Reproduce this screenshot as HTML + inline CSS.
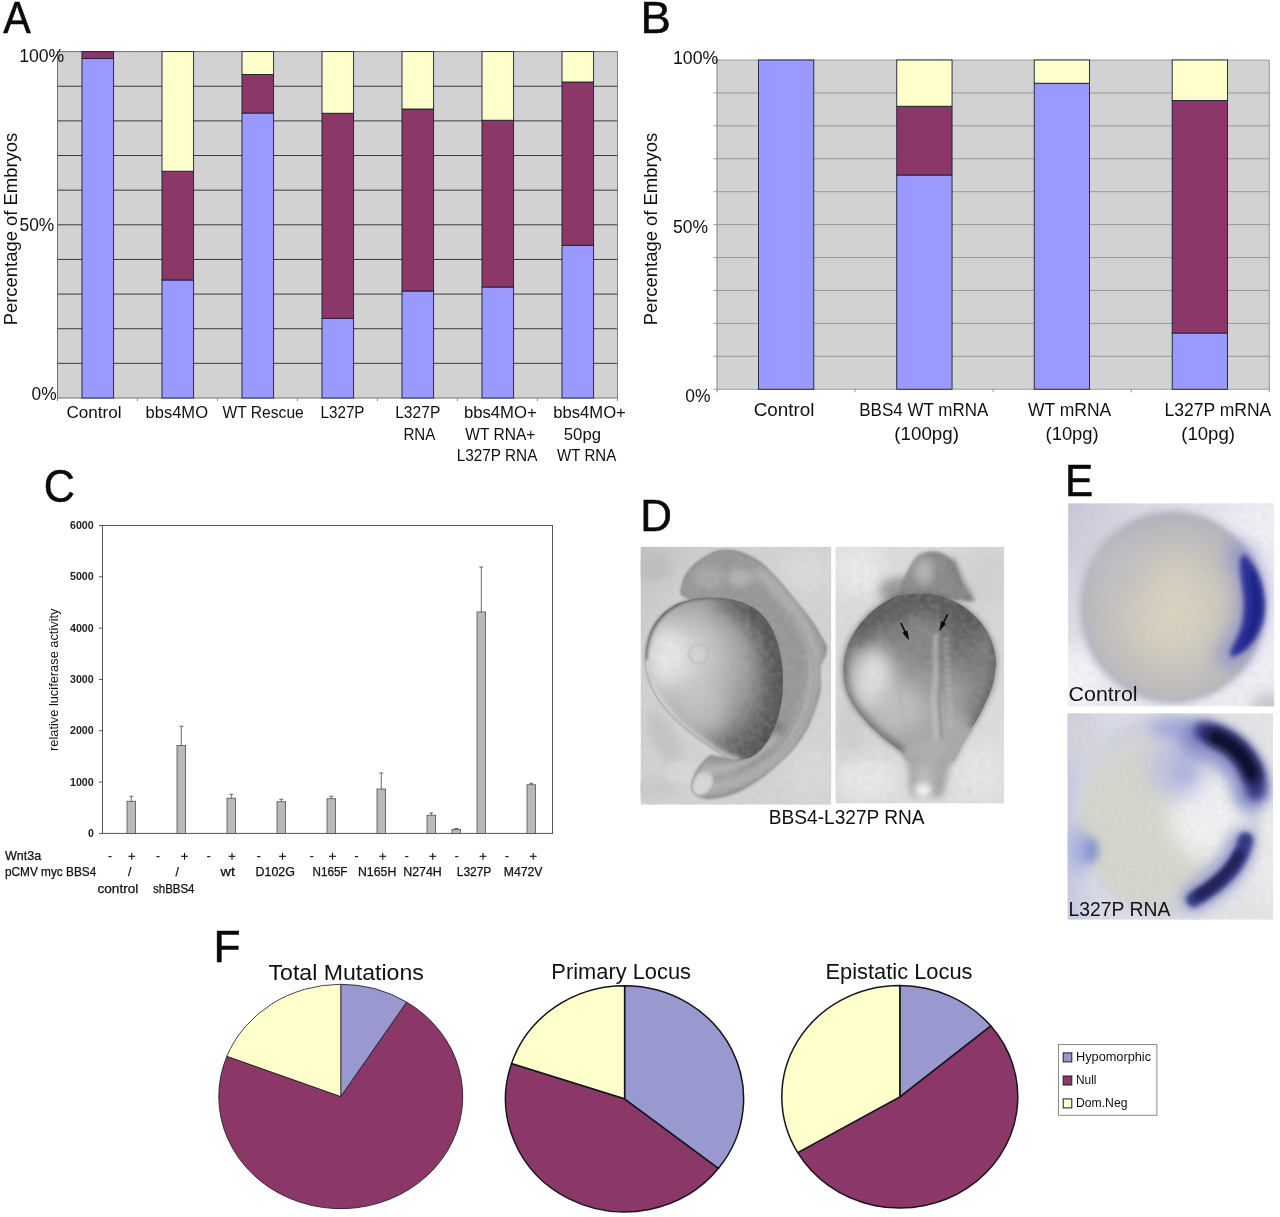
<!DOCTYPE html>
<html><head><meta charset="utf-8"><title>Figure</title>
<style>
html,body{margin:0;padding:0;background:#fff;}
body{width:1280px;height:1217px;overflow:hidden;font-family:'Liberation Sans', sans-serif;}
body>svg{display:block;will-change:transform;}
svg text{font-family:'Liberation Sans', sans-serif;}
</style></head><body>
<svg width="1280" height="1217" viewBox="0 0 1280 1217">
<rect width="1280" height="1217" fill="#fff"/>
<rect x="57.5" y="51.6" width="560.0" height="346.4" fill="#d2d2d2"/>
<line x1="57.5" y1="51.60" x2="617.5" y2="51.60" stroke="#707070" stroke-width="1"/>
<line x1="57.5" y1="86.24" x2="617.5" y2="86.24" stroke="#3a3a3a" stroke-width="1"/>
<line x1="57.5" y1="120.88" x2="617.5" y2="120.88" stroke="#3a3a3a" stroke-width="1"/>
<line x1="57.5" y1="155.52" x2="617.5" y2="155.52" stroke="#3a3a3a" stroke-width="1"/>
<line x1="57.5" y1="190.16" x2="617.5" y2="190.16" stroke="#3a3a3a" stroke-width="1"/>
<line x1="57.5" y1="224.80" x2="617.5" y2="224.80" stroke="#3a3a3a" stroke-width="1"/>
<line x1="57.5" y1="259.44" x2="617.5" y2="259.44" stroke="#3a3a3a" stroke-width="1"/>
<line x1="57.5" y1="294.08" x2="617.5" y2="294.08" stroke="#3a3a3a" stroke-width="1"/>
<line x1="57.5" y1="328.72" x2="617.5" y2="328.72" stroke="#3a3a3a" stroke-width="1"/>
<line x1="57.5" y1="363.36" x2="617.5" y2="363.36" stroke="#3a3a3a" stroke-width="1"/>
<line x1="57.5" y1="398.00" x2="617.5" y2="398.00" stroke="#707070" stroke-width="1"/>
<line x1="57.5" y1="51.6" x2="57.5" y2="400.0" stroke="#707070" stroke-width="1"/>
<line x1="617.5" y1="51.6" x2="617.5" y2="398.0" stroke="#808080" stroke-width="1"/>
<line x1="57.5" y1="398.0" x2="57.5" y2="401.0" stroke="#909090" stroke-width="1"/>
<line x1="137.5" y1="398.0" x2="137.5" y2="401.0" stroke="#909090" stroke-width="1"/>
<line x1="217.5" y1="398.0" x2="217.5" y2="401.0" stroke="#909090" stroke-width="1"/>
<line x1="297.5" y1="398.0" x2="297.5" y2="401.0" stroke="#909090" stroke-width="1"/>
<line x1="377.5" y1="398.0" x2="377.5" y2="401.0" stroke="#909090" stroke-width="1"/>
<line x1="457.5" y1="398.0" x2="457.5" y2="401.0" stroke="#909090" stroke-width="1"/>
<line x1="537.5" y1="398.0" x2="537.5" y2="401.0" stroke="#909090" stroke-width="1"/>
<line x1="617.5" y1="398.0" x2="617.5" y2="401.0" stroke="#909090" stroke-width="1"/>
<rect x="82" y="58.5" width="31.6" height="339.50" fill="#9999ff" stroke="#1c1c3a" stroke-width="0.9"/>
<rect x="82" y="51.6" width="31.6" height="6.90" fill="#8b3768" stroke="#1c1c3a" stroke-width="0.9"/>
<rect x="162" y="280" width="31.6" height="118.00" fill="#9999ff" stroke="#1c1c3a" stroke-width="0.9"/>
<rect x="162" y="171.25" width="31.6" height="108.75" fill="#8b3768" stroke="#1c1c3a" stroke-width="0.9"/>
<rect x="162" y="51.6" width="31.6" height="119.65" fill="#ffffcc" stroke="#1c1c3a" stroke-width="0.9"/>
<rect x="242" y="113" width="31.6" height="285.00" fill="#9999ff" stroke="#1c1c3a" stroke-width="0.9"/>
<rect x="242" y="74.5" width="31.6" height="38.50" fill="#8b3768" stroke="#1c1c3a" stroke-width="0.9"/>
<rect x="242" y="51.6" width="31.6" height="22.90" fill="#ffffcc" stroke="#1c1c3a" stroke-width="0.9"/>
<rect x="322" y="318.25" width="31.6" height="79.75" fill="#9999ff" stroke="#1c1c3a" stroke-width="0.9"/>
<rect x="322" y="113.25" width="31.6" height="205.00" fill="#8b3768" stroke="#1c1c3a" stroke-width="0.9"/>
<rect x="322" y="51.6" width="31.6" height="61.65" fill="#ffffcc" stroke="#1c1c3a" stroke-width="0.9"/>
<rect x="402" y="291" width="31.6" height="107.00" fill="#9999ff" stroke="#1c1c3a" stroke-width="0.9"/>
<rect x="402" y="109" width="31.6" height="182.00" fill="#8b3768" stroke="#1c1c3a" stroke-width="0.9"/>
<rect x="402" y="51.6" width="31.6" height="57.40" fill="#ffffcc" stroke="#1c1c3a" stroke-width="0.9"/>
<rect x="482" y="287" width="31.6" height="111.00" fill="#9999ff" stroke="#1c1c3a" stroke-width="0.9"/>
<rect x="482" y="120.25" width="31.6" height="166.75" fill="#8b3768" stroke="#1c1c3a" stroke-width="0.9"/>
<rect x="482" y="51.6" width="31.6" height="68.65" fill="#ffffcc" stroke="#1c1c3a" stroke-width="0.9"/>
<rect x="562" y="245.25" width="31.6" height="152.75" fill="#9999ff" stroke="#1c1c3a" stroke-width="0.9"/>
<rect x="562" y="82" width="31.6" height="163.25" fill="#8b3768" stroke="#1c1c3a" stroke-width="0.9"/>
<rect x="562" y="51.6" width="31.6" height="30.40" fill="#ffffcc" stroke="#1c1c3a" stroke-width="0.9"/>
<text transform="translate(3.25,33.10) scale(0.4129,0.4449)" font-size="100" fill="#0a0a0a" stroke="#0a0a0a" stroke-width="1.2">A</text>
<text x="19.20" y="61.75" font-size="18.4" textLength="45.10" lengthAdjust="spacingAndGlyphs" fill="#111">100%</text>
<text x="19.50" y="230.50" font-size="18.4" textLength="34.80" lengthAdjust="spacingAndGlyphs" fill="#111">50%</text>
<text x="31.60" y="399.75" font-size="18.4" textLength="25.00" lengthAdjust="spacingAndGlyphs" fill="#111">0%</text>
<text transform="translate(17.20,325.30) rotate(-90)" x="0" y="0" font-size="18.4" textLength="192.50" lengthAdjust="spacingAndGlyphs" fill="#111">Percentage of Embryos</text>
<text x="66.50" y="417.80" font-size="16.8" textLength="55.00" lengthAdjust="spacingAndGlyphs" fill="#111">Control</text>
<text x="145.50" y="417.80" font-size="16.8" textLength="62.50" lengthAdjust="spacingAndGlyphs" fill="#111">bbs4MO</text>
<text x="222.50" y="417.80" font-size="16.8" textLength="81.25" lengthAdjust="spacingAndGlyphs" fill="#111">WT Rescue</text>
<text x="320.50" y="417.80" font-size="16.8" textLength="44.00" lengthAdjust="spacingAndGlyphs" fill="#111">L327P</text>
<text x="395.20" y="417.80" font-size="16.8" textLength="45.10" lengthAdjust="spacingAndGlyphs" fill="#111">L327P</text>
<text x="403.40" y="439.50" font-size="16.8" textLength="31.90" lengthAdjust="spacingAndGlyphs" fill="#111">RNA</text>
<text x="463.90" y="417.80" font-size="16.8" textLength="72.90" lengthAdjust="spacingAndGlyphs" fill="#111">bbs4MO+</text>
<text x="465.30" y="439.50" font-size="16.8" textLength="70.10" lengthAdjust="spacingAndGlyphs" fill="#111">WT RNA+</text>
<text x="456.80" y="460.70" font-size="16.8" textLength="80.60" lengthAdjust="spacingAndGlyphs" fill="#111">L327P RNA</text>
<text x="553.30" y="417.80" font-size="16.8" textLength="72.50" lengthAdjust="spacingAndGlyphs" fill="#111">bbs4MO+</text>
<text x="563.80" y="439.50" font-size="16.8" textLength="37.20" lengthAdjust="spacingAndGlyphs" fill="#111">50pg</text>
<text x="557.10" y="460.70" font-size="16.8" textLength="59.10" lengthAdjust="spacingAndGlyphs" fill="#111">WT RNA</text>
<rect x="717" y="60" width="552.25" height="329.25" fill="#d2d2d2"/>
<line x1="713.5" y1="60.00" x2="1269.25" y2="60.00" stroke="#8a8a8a" stroke-width="0.8"/>
<line x1="713.5" y1="92.92" x2="1269.25" y2="92.92" stroke="#8a8a8a" stroke-width="0.8"/>
<line x1="713.5" y1="125.85" x2="1269.25" y2="125.85" stroke="#8a8a8a" stroke-width="0.8"/>
<line x1="713.5" y1="158.78" x2="1269.25" y2="158.78" stroke="#8a8a8a" stroke-width="0.8"/>
<line x1="713.5" y1="191.70" x2="1269.25" y2="191.70" stroke="#8a8a8a" stroke-width="0.8"/>
<line x1="713.5" y1="224.62" x2="1269.25" y2="224.62" stroke="#8a8a8a" stroke-width="0.8"/>
<line x1="713.5" y1="257.55" x2="1269.25" y2="257.55" stroke="#8a8a8a" stroke-width="0.8"/>
<line x1="713.5" y1="290.48" x2="1269.25" y2="290.48" stroke="#8a8a8a" stroke-width="0.8"/>
<line x1="713.5" y1="323.40" x2="1269.25" y2="323.40" stroke="#8a8a8a" stroke-width="0.8"/>
<line x1="713.5" y1="356.32" x2="1269.25" y2="356.32" stroke="#8a8a8a" stroke-width="0.8"/>
<line x1="713.5" y1="389.25" x2="1269.25" y2="389.25" stroke="#8a8a8a" stroke-width="0.8"/>
<line x1="717" y1="60" x2="717" y2="392.25" stroke="#808080" stroke-width="1"/>
<line x1="1269.25" y1="60" x2="1269.25" y2="392.25" stroke="#909090" stroke-width="1"/>
<line x1="855.06" y1="389.25" x2="855.06" y2="392.25" stroke="#909090" stroke-width="1"/>
<line x1="993.12" y1="389.25" x2="993.12" y2="392.25" stroke="#909090" stroke-width="1"/>
<line x1="1131.18" y1="389.25" x2="1131.18" y2="392.25" stroke="#909090" stroke-width="1"/>
<rect x="758.5" y="60" width="55.3" height="329.25" fill="#9999ff" stroke="#1c1c3a" stroke-width="0.9"/>
<rect x="896.75" y="175" width="55.3" height="214.25" fill="#9999ff" stroke="#1c1c3a" stroke-width="0.9"/>
<rect x="896.75" y="106.25" width="55.3" height="68.75" fill="#8b3768" stroke="#1c1c3a" stroke-width="0.9"/>
<rect x="896.75" y="60" width="55.3" height="46.25" fill="#ffffcc" stroke="#1c1c3a" stroke-width="0.9"/>
<rect x="1034.25" y="83.25" width="55.3" height="306.00" fill="#9999ff" stroke="#1c1c3a" stroke-width="0.9"/>
<rect x="1034.25" y="60" width="55.3" height="23.25" fill="#ffffcc" stroke="#1c1c3a" stroke-width="0.9"/>
<rect x="1172.2" y="333" width="55.3" height="56.25" fill="#9999ff" stroke="#1c1c3a" stroke-width="0.9"/>
<rect x="1172.2" y="100.5" width="55.3" height="232.50" fill="#8b3768" stroke="#1c1c3a" stroke-width="0.9"/>
<rect x="1172.2" y="60" width="55.3" height="40.50" fill="#ffffcc" stroke="#1c1c3a" stroke-width="0.9"/>
<text transform="translate(640.60,33.40) scale(0.4557,0.4478)" font-size="100" fill="#0a0a0a" stroke="#0a0a0a" stroke-width="1.2">B</text>
<text x="673.00" y="63.80" font-size="18.4" textLength="45.20" lengthAdjust="spacingAndGlyphs" fill="#111">100%</text>
<text x="673.00" y="232.70" font-size="18.4" textLength="35.00" lengthAdjust="spacingAndGlyphs" fill="#111">50%</text>
<text x="685.30" y="401.90" font-size="18.4" textLength="25.20" lengthAdjust="spacingAndGlyphs" fill="#111">0%</text>
<text transform="translate(657.20,325.30) rotate(-90)" x="0" y="0" font-size="18.4" textLength="192.50" lengthAdjust="spacingAndGlyphs" fill="#111">Percentage of Embryos</text>
<text x="753.75" y="415.75" font-size="18.8" textLength="60.75" lengthAdjust="spacingAndGlyphs" fill="#111">Control</text>
<text x="859.25" y="415.75" font-size="18.8" textLength="129.00" lengthAdjust="spacingAndGlyphs" fill="#111">BBS4 WT mRNA</text>
<text x="894.30" y="440.00" font-size="18.8" textLength="64.70" lengthAdjust="spacingAndGlyphs" fill="#111">(100pg)</text>
<text x="1028.00" y="415.75" font-size="18.8" textLength="83.25" lengthAdjust="spacingAndGlyphs" fill="#111">WT mRNA</text>
<text x="1045.50" y="440.00" font-size="18.8" textLength="53.25" lengthAdjust="spacingAndGlyphs" fill="#111">(10pg)</text>
<text x="1164.50" y="415.75" font-size="18.8" textLength="106.75" lengthAdjust="spacingAndGlyphs" fill="#111">L327P mRNA</text>
<text x="1181.25" y="440.00" font-size="18.8" textLength="53.75" lengthAdjust="spacingAndGlyphs" fill="#111">(10pg)</text>
<rect x="102.5" y="525.5" width="450.0" height="307.9" fill="#fff" stroke="#555" stroke-width="1"/>
<line x1="99.0" y1="833.40" x2="102.5" y2="833.40" stroke="#555" stroke-width="1"/>
<text x="87.95" y="837.00" font-size="10" textLength="5.80" lengthAdjust="spacingAndGlyphs" font-weight="bold" fill="#222">0</text>
<line x1="99.0" y1="782.08" x2="102.5" y2="782.08" stroke="#555" stroke-width="1"/>
<text x="70.00" y="785.68" font-size="10" textLength="23.75" lengthAdjust="spacingAndGlyphs" font-weight="bold" fill="#222">1000</text>
<line x1="99.0" y1="730.77" x2="102.5" y2="730.77" stroke="#555" stroke-width="1"/>
<text x="70.00" y="734.37" font-size="10" textLength="23.75" lengthAdjust="spacingAndGlyphs" font-weight="bold" fill="#222">2000</text>
<line x1="99.0" y1="679.45" x2="102.5" y2="679.45" stroke="#555" stroke-width="1"/>
<text x="70.00" y="683.05" font-size="10" textLength="23.75" lengthAdjust="spacingAndGlyphs" font-weight="bold" fill="#222">3000</text>
<line x1="99.0" y1="628.13" x2="102.5" y2="628.13" stroke="#555" stroke-width="1"/>
<text x="70.00" y="631.73" font-size="10" textLength="23.75" lengthAdjust="spacingAndGlyphs" font-weight="bold" fill="#222">4000</text>
<line x1="99.0" y1="576.82" x2="102.5" y2="576.82" stroke="#555" stroke-width="1"/>
<text x="70.00" y="580.42" font-size="10" textLength="23.75" lengthAdjust="spacingAndGlyphs" font-weight="bold" fill="#222">5000</text>
<line x1="99.0" y1="525.50" x2="102.5" y2="525.50" stroke="#555" stroke-width="1"/>
<text x="70.00" y="529.10" font-size="10" textLength="23.75" lengthAdjust="spacingAndGlyphs" font-weight="bold" fill="#222">6000</text>
<line x1="131.30" y1="801.25" x2="131.30" y2="796.25" stroke="#444" stroke-width="0.8"/>
<line x1="129.30" y1="796.25" x2="133.30" y2="796.25" stroke="#444" stroke-width="0.8"/>
<rect x="127" y="801.25" width="8.6" height="32.15" fill="#b9b9b9" stroke="#505050" stroke-width="0.8"/>
<line x1="181.30" y1="745.5" x2="181.30" y2="726.25" stroke="#444" stroke-width="0.8"/>
<line x1="179.30" y1="726.25" x2="183.30" y2="726.25" stroke="#444" stroke-width="0.8"/>
<rect x="177" y="745.5" width="8.6" height="87.90" fill="#b9b9b9" stroke="#505050" stroke-width="0.8"/>
<line x1="231.30" y1="798.25" x2="231.30" y2="794.25" stroke="#444" stroke-width="0.8"/>
<line x1="229.30" y1="794.25" x2="233.30" y2="794.25" stroke="#444" stroke-width="0.8"/>
<rect x="227" y="798.25" width="8.6" height="35.15" fill="#b9b9b9" stroke="#505050" stroke-width="0.8"/>
<line x1="281.30" y1="801.75" x2="281.30" y2="799.25" stroke="#444" stroke-width="0.8"/>
<line x1="279.30" y1="799.25" x2="283.30" y2="799.25" stroke="#444" stroke-width="0.8"/>
<rect x="277" y="801.75" width="8.6" height="31.65" fill="#b9b9b9" stroke="#505050" stroke-width="0.8"/>
<line x1="331.30" y1="798.75" x2="331.30" y2="796.25" stroke="#444" stroke-width="0.8"/>
<line x1="329.30" y1="796.25" x2="333.30" y2="796.25" stroke="#444" stroke-width="0.8"/>
<rect x="327" y="798.75" width="8.6" height="34.65" fill="#b9b9b9" stroke="#505050" stroke-width="0.8"/>
<line x1="381.30" y1="789" x2="381.30" y2="773" stroke="#444" stroke-width="0.8"/>
<line x1="379.30" y1="773" x2="383.30" y2="773" stroke="#444" stroke-width="0.8"/>
<rect x="377" y="789" width="8.6" height="44.40" fill="#b9b9b9" stroke="#505050" stroke-width="0.8"/>
<line x1="431.30" y1="815.25" x2="431.30" y2="813" stroke="#444" stroke-width="0.8"/>
<line x1="429.30" y1="813" x2="433.30" y2="813" stroke="#444" stroke-width="0.8"/>
<rect x="427" y="815.25" width="8.6" height="18.15" fill="#b9b9b9" stroke="#505050" stroke-width="0.8"/>
<line x1="456.30" y1="829.5" x2="456.30" y2="828.5" stroke="#444" stroke-width="0.8"/>
<line x1="454.30" y1="828.5" x2="458.30" y2="828.5" stroke="#444" stroke-width="0.8"/>
<rect x="452" y="829.5" width="8.6" height="3.90" fill="#b9b9b9" stroke="#505050" stroke-width="0.8"/>
<line x1="481.30" y1="612" x2="481.30" y2="567" stroke="#444" stroke-width="0.8"/>
<line x1="479.30" y1="567" x2="483.30" y2="567" stroke="#444" stroke-width="0.8"/>
<rect x="477" y="612" width="8.6" height="221.40" fill="#b9b9b9" stroke="#505050" stroke-width="0.8"/>
<line x1="531.30" y1="784.75" x2="531.30" y2="783.25" stroke="#444" stroke-width="0.8"/>
<line x1="529.30" y1="783.25" x2="533.30" y2="783.25" stroke="#444" stroke-width="0.8"/>
<rect x="527" y="784.75" width="8.6" height="48.65" fill="#b9b9b9" stroke="#505050" stroke-width="0.8"/>
<text transform="translate(43.74,502.14) scale(0.4317,0.4577)" font-size="100" fill="#0a0a0a" stroke="#0a0a0a" stroke-width="1.2">C</text>
<text transform="translate(58.40,751.00) rotate(-90)" x="0" y="0" font-size="12.6" textLength="142.50" lengthAdjust="spacingAndGlyphs" fill="#111">relative luciferase activity</text>
<text x="5.00" y="859.50" font-size="12.2" textLength="36.25" lengthAdjust="spacingAndGlyphs" fill="#111" stroke="#111" stroke-width="0.25">Wnt3a</text>
<text x="5.00" y="876.25" font-size="12.2" textLength="91.25" lengthAdjust="spacingAndGlyphs" fill="#111" stroke="#111" stroke-width="0.25">pCMV myc BBS4</text>
<line x1="108.4" y1="856.6" x2="111.6" y2="856.6" stroke="#111" stroke-width="1.1"/>
<line x1="156.4" y1="856.6" x2="159.6" y2="856.6" stroke="#111" stroke-width="1.1"/>
<line x1="207.15" y1="856.6" x2="210.35" y2="856.6" stroke="#111" stroke-width="1.1"/>
<line x1="257.15" y1="856.6" x2="260.35" y2="856.6" stroke="#111" stroke-width="1.1"/>
<line x1="310.15" y1="856.6" x2="313.35" y2="856.6" stroke="#111" stroke-width="1.1"/>
<line x1="354.9" y1="856.6" x2="358.1" y2="856.6" stroke="#111" stroke-width="1.1"/>
<line x1="405.15" y1="856.6" x2="408.35" y2="856.6" stroke="#111" stroke-width="1.1"/>
<line x1="455.15" y1="856.6" x2="458.35" y2="856.6" stroke="#111" stroke-width="1.1"/>
<line x1="505.4" y1="856.6" x2="508.6" y2="856.6" stroke="#111" stroke-width="1.1"/>
<line x1="128.35" y1="856.3" x2="135.15" y2="856.3" stroke="#111" stroke-width="1.1"/>
<line x1="131.75" y1="852.9" x2="131.75" y2="859.7" stroke="#111" stroke-width="1.1"/>
<line x1="181.1" y1="856.3" x2="187.9" y2="856.3" stroke="#111" stroke-width="1.1"/>
<line x1="184.5" y1="852.9" x2="184.5" y2="859.7" stroke="#111" stroke-width="1.1"/>
<line x1="228.6" y1="856.3" x2="235.4" y2="856.3" stroke="#111" stroke-width="1.1"/>
<line x1="232" y1="852.9" x2="232" y2="859.7" stroke="#111" stroke-width="1.1"/>
<line x1="279.1" y1="856.3" x2="285.9" y2="856.3" stroke="#111" stroke-width="1.1"/>
<line x1="282.5" y1="852.9" x2="282.5" y2="859.7" stroke="#111" stroke-width="1.1"/>
<line x1="329.1" y1="856.3" x2="335.9" y2="856.3" stroke="#111" stroke-width="1.1"/>
<line x1="332.5" y1="852.9" x2="332.5" y2="859.7" stroke="#111" stroke-width="1.1"/>
<line x1="379.35" y1="856.3" x2="386.15" y2="856.3" stroke="#111" stroke-width="1.1"/>
<line x1="382.75" y1="852.9" x2="382.75" y2="859.7" stroke="#111" stroke-width="1.1"/>
<line x1="429.35" y1="856.3" x2="436.15" y2="856.3" stroke="#111" stroke-width="1.1"/>
<line x1="432.75" y1="852.9" x2="432.75" y2="859.7" stroke="#111" stroke-width="1.1"/>
<line x1="479.6" y1="856.3" x2="486.4" y2="856.3" stroke="#111" stroke-width="1.1"/>
<line x1="483" y1="852.9" x2="483" y2="859.7" stroke="#111" stroke-width="1.1"/>
<line x1="529.85" y1="856.3" x2="536.65" y2="856.3" stroke="#111" stroke-width="1.1"/>
<line x1="533.25" y1="852.9" x2="533.25" y2="859.7" stroke="#111" stroke-width="1.1"/>
<text x="127.90" y="876.25" font-size="12.2" textLength="3.40" lengthAdjust="spacingAndGlyphs" fill="#111" stroke="#111" stroke-width="0.25">/</text>
<text x="175.40" y="876.25" font-size="12.2" textLength="3.40" lengthAdjust="spacingAndGlyphs" fill="#111" stroke="#111" stroke-width="0.25">/</text>
<text x="220.50" y="876.25" font-size="12.2" textLength="14.50" lengthAdjust="spacingAndGlyphs" fill="#111" stroke="#111" stroke-width="0.25">wt</text>
<text x="255.50" y="876.25" font-size="12.2" textLength="39.50" lengthAdjust="spacingAndGlyphs" fill="#111" stroke="#111" stroke-width="0.25">D102G</text>
<text x="312.50" y="876.25" font-size="12.2" textLength="35.00" lengthAdjust="spacingAndGlyphs" fill="#111" stroke="#111" stroke-width="0.25">N165F</text>
<text x="358.00" y="876.25" font-size="12.2" textLength="38.25" lengthAdjust="spacingAndGlyphs" fill="#111" stroke="#111" stroke-width="0.25">N165H</text>
<text x="403.25" y="876.25" font-size="12.2" textLength="38.50" lengthAdjust="spacingAndGlyphs" fill="#111" stroke="#111" stroke-width="0.25">N274H</text>
<text x="456.75" y="876.25" font-size="12.2" textLength="34.50" lengthAdjust="spacingAndGlyphs" fill="#111" stroke="#111" stroke-width="0.25">L327P</text>
<text x="503.75" y="876.25" font-size="12.2" textLength="38.75" lengthAdjust="spacingAndGlyphs" fill="#111" stroke="#111" stroke-width="0.25">M472V</text>
<text x="97.50" y="892.50" font-size="12.2" textLength="40.75" lengthAdjust="spacingAndGlyphs" fill="#111" stroke="#111" stroke-width="0.25">control</text>
<text x="153.00" y="892.50" font-size="12.2" textLength="41.50" lengthAdjust="spacingAndGlyphs" fill="#111" stroke="#111" stroke-width="0.25">shBBS4</text>
<defs>
<filter id="bl4" filterUnits="userSpaceOnUse" x="-300" y="-300" width="1900" height="1900"><feGaussianBlur stdDeviation="4"/></filter>
<filter id="bl8" filterUnits="userSpaceOnUse" x="-300" y="-300" width="1900" height="1900"><feGaussianBlur stdDeviation="8"/></filter>
<filter id="bl14" filterUnits="userSpaceOnUse" x="-300" y="-300" width="1900" height="1900"><feGaussianBlur stdDeviation="14"/></filter>
<filter id="bl22" filterUnits="userSpaceOnUse" x="-300" y="-300" width="1900" height="1900"><feGaussianBlur stdDeviation="22"/></filter>
<filter id="bl35" filterUnits="userSpaceOnUse" x="-300" y="-300" width="1900" height="1900"><feGaussianBlur stdDeviation="35"/></filter>
<filter id="bl60" filterUnits="userSpaceOnUse" x="-300" y="-300" width="1900" height="1900"><feGaussianBlur stdDeviation="60"/></filter>
<filter id="grain" x="0" y="0" width="100%" height="100%">
  <feTurbulence type="fractalNoise" baseFrequency="0.035" numOctaves="3" seed="7" result="n"/>
  <feColorMatrix in="n" type="matrix" values="0 0 0 0 0.5  0 0 0 0 0.5  0 0 0 0 0.5  0.9 0.9 0 0 -0.62"/>
</filter>
</defs>
<svg x="636" y="540" width="200" height="270" viewBox="0 0 901 1217">
<defs>
<clipPath id="cDL"><rect x="20" y="30" width="860" height="1163"/></clipPath>
<path id="yolkP" d="M42,520 C47,420 90,330 200,282 C300,245 460,248 550,320 C630,390 668,520 662,660 C655,800 610,910 540,965 C490,1000 430,1000 380,960 C290,900 190,830 120,740 C70,670 40,600 42,520 Z"/>
<clipPath id="cYolk"><path d="M42,520 C47,420 90,330 200,282 C300,245 460,248 550,320 C630,390 668,520 662,660 C655,800 610,910 540,965 C490,1000 430,1000 380,960 C290,900 190,830 120,740 C70,670 40,600 42,520 Z"/></clipPath>
<path id="bodyP" d="M200,243 C205,200 215,175 221,162 C250,110 290,90 302,81 C340,55 370,45 396,44 C430,42 465,50 491,61 C530,78 565,100 592,128 C630,165 665,205 694,243 C720,275 740,300 761,324 C790,360 815,395 829,426 C845,455 860,470 859,487 C860,520 840,545 829,567 C825,600 835,640 830,680 C822,720 812,750 800,780 C785,825 765,865 740,900 C715,935 685,970 650,1000 C615,1035 580,1065 540,1090 C500,1118 460,1140 420,1150 C380,1162 340,1170 310,1165 C285,1160 268,1150 262,1140 C250,1120 250,1105 255,1090 C262,1065 275,1040 290,1020 C305,1000 320,985 340,975 L450,1000 L600,600 L300,300 Z"/>
<clipPath id="cBody"><path d="M200,243 C205,200 215,175 221,162 C250,110 290,90 302,81 C340,55 370,45 396,44 C430,42 465,50 491,61 C530,78 565,100 592,128 C630,165 665,205 694,243 C720,275 740,300 761,324 C790,360 815,395 829,426 C845,455 860,470 859,487 C860,520 840,545 829,567 C825,600 835,640 830,680 C822,720 812,750 800,780 C785,825 765,865 740,900 C715,935 685,970 650,1000 C615,1035 580,1065 540,1090 C500,1118 460,1140 420,1150 C380,1162 340,1170 310,1165 C285,1160 268,1150 262,1140 C250,1120 250,1105 255,1090 C262,1065 275,1040 290,1020 C305,1000 320,985 340,975 L450,1000 L600,600 L300,300 Z"/></clipPath>
<radialGradient id="gYolk" gradientUnits="userSpaceOnUse" cx="230" cy="580" r="500" fx="170" fy="520">
 <stop offset="0" stop-color="#e4e4e4"/><stop offset="0.2" stop-color="#d2d2d2"/><stop offset="0.4" stop-color="#b8b8b8"/><stop offset="0.6" stop-color="#9a9a9a"/><stop offset="0.78" stop-color="#787878"/><stop offset="1" stop-color="#5a5a5a"/>
</radialGradient>
<linearGradient id="gDLbg" x1="0" y1="0" x2="1" y2="1"><stop offset="0" stop-color="#c2c2c2"/><stop offset="0.22" stop-color="#d3d3d3"/><stop offset="1" stop-color="#d5d5d5"/></linearGradient>
</defs>
<g clip-path="url(#cDL)">
<rect x="20" y="30" width="860" height="1163" fill="url(#gDLbg)"/>
<ellipse cx="80" cy="120" rx="80" ry="60" fill="#bebebe" filter="url(#bl22)"/>
<ellipse cx="130" cy="900" rx="55" ry="150" fill="#c4c4c4" filter="url(#bl22)" transform="rotate(-28 130 900)"/>
<ellipse cx="90" cy="1120" rx="130" ry="50" fill="#cbcbcb" filter="url(#bl22)"/>
<ellipse cx="770" cy="140" rx="120" ry="90" fill="#dbdbdb" filter="url(#bl35)"/>
<ellipse cx="790" cy="1050" rx="110" ry="120" fill="#dadada" filter="url(#bl35)"/>
<ellipse cx="200" cy="1050" rx="60" ry="60" fill="#dadada" filter="url(#bl22)"/>
<path d="M200,243 C205,200 215,175 221,162 C250,110 290,90 302,81 C340,55 370,45 396,44 C430,42 465,50 491,61 C530,78 565,100 592,128 C630,165 665,205 694,243 C720,275 740,300 761,324 C790,360 815,395 829,426 C845,455 860,470 859,487 C860,520 840,545 829,567 C825,600 835,640 830,680 C822,720 812,750 800,780 C785,825 765,865 740,900 C715,935 685,970 650,1000 C615,1035 580,1065 540,1090 C500,1118 460,1140 420,1150 C380,1162 340,1170 310,1165 C285,1160 268,1150 262,1140 C250,1120 250,1105 255,1090 C262,1065 275,1040 290,1020 C305,1000 320,985 340,975 L450,1000 L600,600 L300,300 Z" fill="#828282" filter="url(#bl8)"/>
<path d="M200,243 C205,200 215,175 221,162 C250,110 290,90 302,81 C340,55 370,45 396,44 C430,42 465,50 491,61 C530,78 565,100 592,128 C630,165 665,205 694,243 C720,275 740,300 761,324 C790,360 815,395 829,426 C845,455 860,470 859,487 C860,520 840,545 829,567 C825,600 835,640 830,680 C822,720 812,750 800,780 C785,825 765,865 740,900 C715,935 685,970 650,1000 C615,1035 580,1065 540,1090 C500,1118 460,1140 420,1150 C380,1162 340,1170 310,1165 C285,1160 268,1150 262,1140 C250,1120 250,1105 255,1090 C262,1065 275,1040 290,1020 C305,1000 320,985 340,975 L450,1000 L600,600 L300,300 Z" fill="#969696" filter="url(#bl4)" transform="translate(5,5) scale(0.988)"/>
<g clip-path="url(#cBody)">
<path d="M560,150 C680,260 770,380 800,500 C815,620 780,760 700,900 C620,1010 480,1100 320,1120" stroke="#aeaeae" stroke-width="56" fill="none" stroke-linecap="round" filter="url(#bl14)"/>
<path d="M640,300 C740,420 770,520 765,640 C755,760 700,880 600,980" stroke="#959595" stroke-width="14" fill="none" filter="url(#bl4)" stroke-dasharray="12 10"/>
<path d="M700,330 C790,450 810,540 800,660 C790,760 740,870 650,960" stroke="#989898" stroke-width="12" fill="none" filter="url(#bl4)" stroke-dasharray="10 12"/>
<ellipse cx="470" cy="170" rx="60" ry="40" fill="#b0b0b0" filter="url(#bl14)"/>
<ellipse cx="330" cy="170" rx="70" ry="50" fill="#a6a6a6" filter="url(#bl14)"/>
<path d="M640,820 C600,920 540,990 430,1010" stroke="#6a6a6a" stroke-width="50" fill="none" filter="url(#bl22)"/>
<ellipse cx="300" cy="1095" rx="42" ry="60" fill="#d8d8d8" filter="url(#bl8)" transform="rotate(30 300 1095)"/>
<path d="M300,1030 C420,1060 540,980 640,880" stroke="#b8b8b8" stroke-width="40" fill="none" filter="url(#bl14)"/>
</g>
<path d="M42,520 C47,420 90,330 200,282 C300,245 460,248 550,320 C630,390 668,520 662,660 C655,800 610,910 540,965 C490,1000 430,1000 380,960 C290,900 190,830 120,740 C70,670 40,600 42,520 Z" fill="none" stroke="#909090" stroke-width="8" filter="url(#bl4)"/>
<g clip-path="url(#cYolk)">
<rect x="0" y="200" width="720" height="850" fill="url(#gYolk)"/>
<path d="M380,270 C500,300 590,400 612,560 C625,700 600,830 520,920 C490,950 460,965 430,975" stroke="#5a5a5a" stroke-width="80" fill="none" filter="url(#bl35)" opacity="0.85"/>
<path d="M470,275 C585,330 645,450 650,640 C650,800 600,915 510,980" stroke="#505050" stroke-width="50" fill="none" filter="url(#bl22)"/>
<path d="M42,540 C50,400 110,310 221,272 C290,252 360,250 440,262" stroke="#5e5e5e" stroke-width="20" fill="none" filter="url(#bl8)"/>
<path d="M60,640 C90,720 180,830 300,910 C360,955 420,995 470,995" stroke="#dcdcdc" stroke-width="30" fill="none" filter="url(#bl14)"/>
<ellipse cx="135" cy="520" rx="70" ry="120" fill="#ebebeb" opacity="0.8" filter="url(#bl35)"/>
<ellipse cx="300" cy="760" rx="110" ry="120" fill="#cccccc" opacity="0.5" filter="url(#bl35)"/>
<circle cx="280" cy="515" r="42" fill="#d4d4d4" stroke="#b4b4b4" stroke-width="8" filter="url(#bl4)" opacity="0.7"/>
</g>
<rect x="20" y="30" width="860" height="1163" filter="url(#grain)" opacity="0.3"/>
</g></svg>
<svg x="826" y="540" width="200" height="270" viewBox="0 0 901 1217">
<defs>
<clipPath id="cDR"><rect x="42" y="30" width="761" height="1158"/></clipPath>
<path id="drBody" d="M419,243 C500,240 560,265 611,295 C690,345 740,420 755,487 C768,540 768,560 762,583 C758,640 745,680 726,717 C705,765 685,805 659,842 C635,880 615,910 601,938 C590,960 580,980 573,995 L371,995 C362,980 355,968 343,957 C310,930 285,915 256,890 C220,860 190,830 161,794 C125,750 105,720 93,679 C80,640 75,600 79,564 C84,500 105,450 132,410 C160,365 190,335 228,305 C260,280 290,262 323,252 C355,245 385,243 419,243 Z"/>
<clipPath id="cDRb"><path d="M419,243 C500,240 560,265 611,295 C690,345 740,420 755,487 C768,540 768,560 762,583 C758,640 745,680 726,717 C705,765 685,805 659,842 C635,880 615,910 601,938 C590,960 580,980 573,995 L371,995 C362,980 355,968 343,957 C310,930 285,915 256,890 C220,860 190,830 161,794 C125,750 105,720 93,679 C80,640 75,600 79,564 C84,500 105,450 132,410 C160,365 190,335 228,305 C260,280 290,262 323,252 C355,245 385,243 419,243 Z"/></clipPath>
<linearGradient id="gDR" gradientUnits="userSpaceOnUse" x1="560" y1="240" x2="300" y2="900">
 <stop offset="0" stop-color="#5c5c5c"/><stop offset="0.3" stop-color="#6e6e6e"/><stop offset="0.52" stop-color="#949494"/><stop offset="0.75" stop-color="#aaaaaa"/><stop offset="1" stop-color="#a6a6a6"/>
</linearGradient>
<linearGradient id="gDRbg" x1="0" y1="0" x2="0.6" y2="1"><stop offset="0" stop-color="#e2e2e2"/><stop offset="0.5" stop-color="#d6d6d6"/><stop offset="1" stop-color="#e0e0e0"/></linearGradient>
</defs>
<g clip-path="url(#cDR)">
<rect x="42" y="30" width="761" height="1158" fill="url(#gDRbg)"/>
<ellipse cx="140" cy="140" rx="110" ry="100" fill="#ececec" filter="url(#bl35)"/>
<ellipse cx="720" cy="160" rx="80" ry="120" fill="#d2d2d2" filter="url(#bl35)"/>
<ellipse cx="180" cy="1080" rx="140" ry="90" fill="#eaeaea" filter="url(#bl35)"/>
<ellipse cx="700" cy="1050" rx="110" ry="120" fill="#e6e6e6" filter="url(#bl35)"/>
<ellipse cx="110" cy="860" rx="50" ry="110" fill="#cecece" filter="url(#bl35)"/>
<ellipse cx="330" cy="230" rx="90" ry="60" fill="#989898" filter="url(#bl22)"/>
<path d="M300,262 C335,205 372,120 402,82 C432,46 505,40 545,70 C585,100 595,160 615,205 C630,235 655,255 675,275 Z" fill="#888888" filter="url(#bl8)"/>
<ellipse cx="440" cy="140" rx="45" ry="60" fill="#b4b4b4" filter="url(#bl22)"/>
<path d="M560,85 C592,150 605,215 655,268" stroke="#7a7a7a" stroke-width="32" fill="none" filter="url(#bl14)"/>
<path d="M419,243 C500,240 560,265 611,295 C690,345 740,420 755,487 C768,540 768,560 762,583 C758,640 745,680 726,717 C705,765 685,805 659,842 C635,880 615,910 601,938 C590,960 580,980 573,995 L371,995 C362,980 355,968 343,957 C310,930 285,915 256,890 C220,860 190,830 161,794 C125,750 105,720 93,679 C80,640 75,600 79,564 C84,500 105,450 132,410 C160,365 190,335 228,305 C260,280 290,262 323,252 C355,245 385,243 419,243 Z" fill="#626262" filter="url(#bl14)"/>
<g clip-path="url(#cDRb)">
<rect x="40" y="200" width="780" height="820" fill="url(#gDR)"/>
<path d="M100,470 C150,330 290,268 420,265 C570,268 690,345 750,480" stroke="#5a5a5a" stroke-width="130" fill="none" filter="url(#bl35)"/>
<path d="M700,420 C765,570 730,700 650,810" stroke="#7c7c7c" stroke-width="110" fill="none" filter="url(#bl35)"/>
<path d="M755,450 C785,580 750,710 660,845" stroke="#646464" stroke-width="36" fill="none" filter="url(#bl14)"/>
<path d="M120,420 C70,520 70,640 110,720 C160,810 260,890 343,957" stroke="#6e6e6e" stroke-width="46" fill="none" filter="url(#bl14)"/>
<ellipse cx="215" cy="630" rx="85" ry="135" fill="#e0e0e0" filter="url(#bl35)"/>
<ellipse cx="320" cy="760" rx="110" ry="110" fill="#c2c2c2" filter="url(#bl35)" opacity="0.8"/>
<ellipse cx="430" cy="450" rx="100" ry="110" fill="#868686" filter="url(#bl35)" opacity="0.9"/>
<path d="M500,420 C478,500 508,580 488,660 C475,740 505,820 492,930" stroke="#c8c8c8" stroke-width="28" fill="none" filter="url(#bl8)" opacity="0.5"/>
<path d="M538,440 C548,560 557,700 562,860" stroke="#c0c0c0" stroke-width="24" fill="none" filter="url(#bl8)" stroke-dasharray="16 12" opacity="0.5"/>
<path d="M517,430 C500,520 530,600 512,700 C505,780 525,850 520,900" stroke="#828282" stroke-width="7" fill="none" filter="url(#bl4)" opacity="0.8"/>
<path d="M330,560 C320,680 340,800 380,900" stroke="#a8a8a8" stroke-width="12" fill="none" filter="url(#bl8)" stroke-dasharray="20 14" opacity="0.7"/>
</g>
<path d="M360,930 C380,1040 368,1095 385,1160 L525,1160 C545,1095 548,1040 585,930 Z" fill="#a6a6a6" filter="url(#bl14)"/>
<ellipse cx="465" cy="950" rx="85" ry="50" fill="#aeaeae" filter="url(#bl22)"/>
<ellipse cx="445" cy="1060" rx="40" ry="50" fill="#bcbcbc" filter="url(#bl22)"/>
<ellipse cx="437" cy="1128" rx="40" ry="36" fill="#f0f0f0" filter="url(#bl14)"/>
<rect x="42" y="30" width="761" height="1158" filter="url(#grain)" opacity="0.28"/>
<line x1="338" y1="375" x2="357.2" y2="416.7" stroke="#0a0a0a" stroke-width="7"/>
<path d="M374,453 L344.2,418.3 L366.9,407.8 Z" fill="#0a0a0a"/>
<line x1="548" y1="335" x2="527.9" y2="375.2" stroke="#0a0a0a" stroke-width="7"/>
<path d="M510,411 L518.5,366.1 L540.9,377.2 Z" fill="#0a0a0a"/>
</g></svg>
<svg x="1050" y="460" width="230" height="250" viewBox="0 0 1120 1217">
<defs>
<clipPath id="cET"><rect x="88" y="210" width="1004" height="990"/></clipPath>
<radialGradient id="gET" gradientUnits="userSpaceOnUse" cx="600" cy="740" r="470">
 <stop offset="0" stop-color="#d8d0be"/><stop offset="0.5" stop-color="#cbc7bd"/><stop offset="0.82" stop-color="#bebcbe"/><stop offset="1" stop-color="#b2b2be"/>
</radialGradient>
<linearGradient id="gETbg" x1="0" y1="0" x2="1" y2="0.7"><stop offset="0" stop-color="#c9c5d6"/><stop offset="0.25" stop-color="#dedbe8"/><stop offset="0.6" stop-color="#eceaf3"/><stop offset="1" stop-color="#f1eff6"/></linearGradient>
</defs>
<g clip-path="url(#cET)">
<rect x="88" y="210" width="1004" height="990" fill="url(#gETbg)"/>
<ellipse cx="130" cy="1080" rx="130" ry="170" fill="#f6f5fa" filter="url(#bl60)"/>
<ellipse cx="1065" cy="1185" rx="80" ry="50" fill="#c2bec9" filter="url(#bl35)"/>
<ellipse cx="1060" cy="330" rx="110" ry="150" fill="#f3f1f8" filter="url(#bl60)"/>
<ellipse cx="1070" cy="900" rx="70" ry="200" fill="#f3f1f8" filter="url(#bl60)"/>
<ellipse cx="596" cy="715" rx="452" ry="468" fill="#b6b5c4" filter="url(#bl22)"/>
<ellipse cx="600" cy="718" rx="438" ry="455" fill="url(#gET)" filter="url(#bl14)"/>
<ellipse cx="590" cy="720" rx="160" ry="240" fill="#ddd5c2" opacity="0.5" filter="url(#bl60)"/>
<ellipse cx="330" cy="520" rx="150" ry="170" fill="#c0bfc8" opacity="0.5" filter="url(#bl60)"/>
<rect x="88" y="210" width="1004" height="990" filter="url(#grain)" opacity="0.22"/>
<path d="M930,470 C975,560 990,650 975,740 C960,830 920,900 880,945" stroke="#7b80c9" stroke-width="150" fill="none" stroke-linecap="round" filter="url(#bl35)" opacity="0.5"/>
<path d="M952,462 C1030,540 1062,680 1038,785 C1012,875 960,935 888,960 C872,952 878,925 893,900 C933,830 948,760 943,680 C938,600 920,540 926,488 C930,466 942,458 952,462 Z" fill="#2e3299" filter="url(#bl14)"/>
<path d="M975,520 C1022,600 1038,690 1018,770 C1000,840 965,895 925,925 C960,860 985,770 985,690 C985,620 975,570 975,520 Z" fill="#1c2084" filter="url(#bl14)"/>
</g></svg>
<svg x="1050" y="700" width="230" height="230" viewBox="0 0 1217 1217">
<defs>
<clipPath id="cEB"><rect x="92" y="70" width="1088" height="1093"/></clipPath>
<radialGradient id="gEB" gradientUnits="userSpaceOnUse" cx="520" cy="680" r="540">
 <stop offset="0" stop-color="#d8d8ce"/><stop offset="0.6" stop-color="#d6d6ce"/><stop offset="0.85" stop-color="#d4d5d8"/><stop offset="1" stop-color="#ced0de"/>
</radialGradient>
<linearGradient id="gEBbg" x1="0" y1="0" x2="1" y2="0"><stop offset="0" stop-color="#c6cae2"/><stop offset="0.13" stop-color="#d8dae8"/><stop offset="0.6" stop-color="#e2e2e8"/><stop offset="1" stop-color="#e6e6e8"/></linearGradient>
</defs>
<g clip-path="url(#cEB)">
<rect x="92" y="70" width="1088" height="1093" fill="url(#gEBbg)"/>
<ellipse cx="150" cy="200" rx="120" ry="150" fill="#d4d4de" filter="url(#bl60)"/>
<ellipse cx="1150" cy="800" rx="80" ry="300" fill="#ececee" filter="url(#bl35)"/>
<ellipse cx="625" cy="610" rx="490" ry="535" fill="#d2d4e0" filter="url(#bl22)"/>
<ellipse cx="620" cy="615" rx="465" ry="510" fill="url(#gEB)" filter="url(#bl22)"/>
<ellipse cx="840" cy="600" rx="200" ry="250" fill="#f4f4f6" opacity="0.95" filter="url(#bl60)"/>
<ellipse cx="680" cy="370" rx="150" ry="150" fill="#b4bae4" filter="url(#bl60)" opacity="0.8"/>
<ellipse cx="710" cy="380" rx="55" ry="60" fill="#a4acde" filter="url(#bl35)" opacity="0.7"/>
<ellipse cx="650" cy="150" rx="120" ry="55" fill="#a4abdc" filter="url(#bl35)"/>
<ellipse cx="200" cy="795" rx="58" ry="70" fill="#7d8ccc" filter="url(#bl22)"/>
<ellipse cx="150" cy="790" rx="45" ry="130" fill="#a8b2e0" filter="url(#bl35)"/>
<rect x="92" y="70" width="1088" height="1093" filter="url(#grain)" opacity="0.2"/>
<path d="M780,205 C890,220 985,290 1035,385 C1060,435 1065,465 1062,490" stroke="#7a82c6" stroke-width="200" fill="none" stroke-linecap="round" filter="url(#bl35)" opacity="0.75"/>
<path d="M815,168 C925,190 1015,255 1065,355 C1085,400 1092,440 1088,475" stroke="#363880" stroke-width="108" fill="none" stroke-linecap="round" filter="url(#bl22)"/>
<path d="M870,195 C965,232 1035,300 1068,395" stroke="#10102e" stroke-width="92" fill="none" stroke-linecap="round" filter="url(#bl22)"/>
<path d="M1010,760 C980,870 900,960 770,1040" stroke="#8088c8" stroke-width="150" fill="none" stroke-linecap="round" filter="url(#bl35)" opacity="0.7"/>
<path d="M1035,740 C1010,860 930,960 760,1055" stroke="#363a82" stroke-width="80" fill="none" stroke-linecap="round" filter="url(#bl14)"/>
<path d="M1000,820 C955,905 880,975 790,1030" stroke="#222458" stroke-width="54" fill="none" stroke-linecap="round" filter="url(#bl14)"/>
</g></svg>
<text x="768.80" y="824.10" font-size="20.4" textLength="155.80" lengthAdjust="spacingAndGlyphs" fill="#111">BBS4-L327P RNA</text>
<text x="1068.60" y="700.70" font-size="20.4" textLength="69.00" lengthAdjust="spacingAndGlyphs" fill="#111">Control</text>
<text x="1068.60" y="915.50" font-size="20.4" textLength="101.70" lengthAdjust="spacingAndGlyphs" fill="#111">L327P RNA</text>
<text transform="translate(640.28,531.10) scale(0.4398,0.4464)" font-size="100" fill="#0a0a0a" stroke="#0a0a0a" stroke-width="1.2">D</text>
<text transform="translate(1064.92,495.75) scale(0.4222,0.4486)" font-size="100" fill="#0a0a0a" stroke="#0a0a0a" stroke-width="1.2">E</text>
<text transform="translate(213.57,961.90) scale(0.4418,0.4464)" font-size="100" fill="#0a0a0a" stroke="#0a0a0a" stroke-width="1.2">F</text>
<text x="268.50" y="979.80" font-size="22.3" textLength="155.30" lengthAdjust="spacingAndGlyphs" fill="#111">Total Mutations</text>
<text x="551.30" y="979.30" font-size="22.3" textLength="139.70" lengthAdjust="spacingAndGlyphs" fill="#111">Primary Locus</text>
<text x="825.50" y="978.80" font-size="22.3" textLength="147.00" lengthAdjust="spacingAndGlyphs" fill="#111">Epistatic Locus</text>
<path d="M340.75,1096.50 L406.66,1002.08 A122,112.2 0 1 1 226.85,1056.29 Z" fill="#8b3768" stroke="#15151f" stroke-width="0.8" stroke-linejoin="round"/>
<path d="M340.75,1096.50 L340.75,984.30 A122,112.2 0 0 1 406.66,1002.08 Z" fill="#9a99cf" stroke="#15151f" stroke-width="0.8" stroke-linejoin="round"/>
<path d="M340.75,1096.50 L226.85,1056.29 A122,112.2 0 0 1 340.75,984.30 Z" fill="#ffffcc" stroke="#15151f" stroke-width="0.8" stroke-linejoin="round"/>
<path d="M624.60,1098.80 L718.50,1168.28 A119,113.1 0 0 1 511.55,1063.47 Z" fill="#8b3768" stroke="#15151f" stroke-width="1.5" stroke-linejoin="round"/>
<path d="M624.60,1098.80 L624.60,985.70 A119,113.1 0 0 1 718.50,1168.28 Z" fill="#9a99cf" stroke="#15151f" stroke-width="1.5" stroke-linejoin="round"/>
<path d="M624.60,1098.80 L511.55,1063.47 A119,113.1 0 0 1 624.60,985.70 Z" fill="#ffffcc" stroke="#15151f" stroke-width="1.5" stroke-linejoin="round"/>
<path d="M899.80,1096.80 L990.72,1025.85 A118,111.3 0 1 1 797.71,1152.62 Z" fill="#8b3768" stroke="#15151f" stroke-width="1.5" stroke-linejoin="round"/>
<path d="M899.80,1096.80 L899.80,985.50 A118,111.3 0 0 1 990.72,1025.85 Z" fill="#9a99cf" stroke="#15151f" stroke-width="1.5" stroke-linejoin="round"/>
<path d="M899.80,1096.80 L797.71,1152.62 A118,111.3 0 0 1 899.80,985.50 Z" fill="#ffffcc" stroke="#15151f" stroke-width="1.5" stroke-linejoin="round"/>
<rect x="1058.5" y="1044.5" width="98.4" height="70.8" fill="#fff" stroke="#8a8a8a" stroke-width="1"/>
<rect x="1063.2" y="1052.9" width="8.6" height="9" fill="#9a99cf" stroke="#1a1a2a" stroke-width="1"/>
<rect x="1063.2" y="1076" width="8.6" height="9" fill="#8b3768" stroke="#1a1a2a" stroke-width="1"/>
<rect x="1063.2" y="1098.9" width="8.6" height="9" fill="#ffffcc" stroke="#1a1a2a" stroke-width="1"/>
<text x="1076.00" y="1060.60" font-size="13" textLength="75.00" lengthAdjust="spacingAndGlyphs" fill="#111">Hypomorphic</text>
<text x="1076.00" y="1083.50" font-size="13" textLength="20.50" lengthAdjust="spacingAndGlyphs" fill="#111">Null</text>
<text x="1076.00" y="1106.50" font-size="13" textLength="51.50" lengthAdjust="spacingAndGlyphs" fill="#111">Dom.Neg</text>
</svg>
</body></html>
